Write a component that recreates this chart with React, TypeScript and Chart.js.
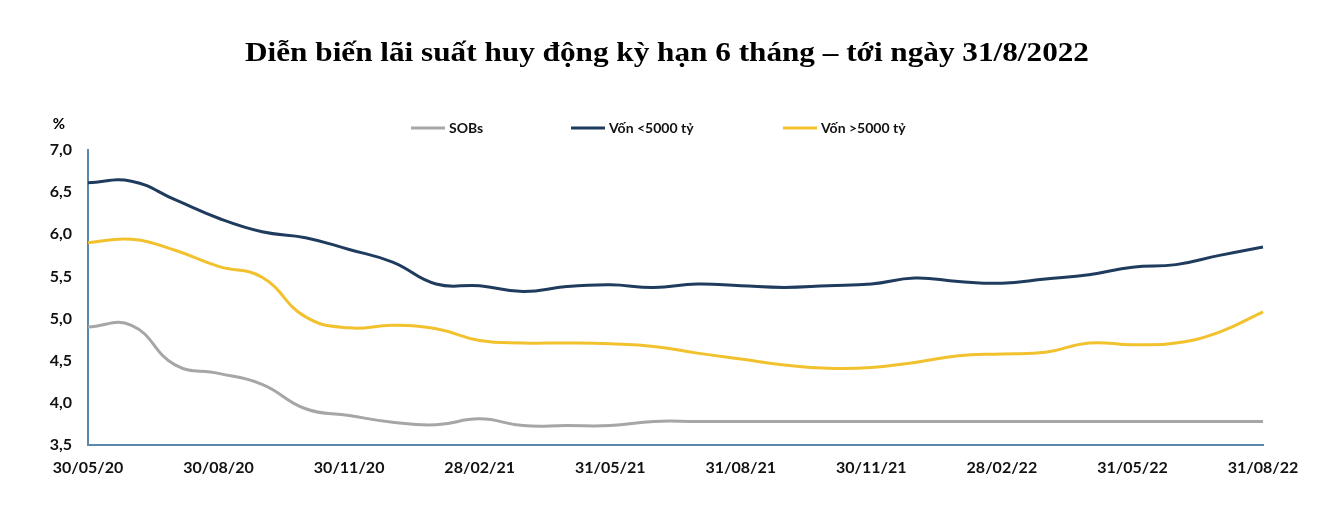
import React, { useEffect, useRef } from "react";
import { Chart, registerables } from "chart.js";

Chart.register(...registerables);

const labels = [
  "30/05/20", "", "", "30/08/20", "", "", "30/11/20", "", "", "28/02/21", "", "",
  "31/05/21", "", "", "31/08/21", "", "", "30/11/21", "", "", "28/02/22", "", "",
  "31/05/22", "", "", "31/08/22",
];

const sobs = [
  4.90, 4.92, 4.45, 4.35, 4.22, 3.93, 3.85, 3.77, 3.74, 3.81, 3.73, 3.73, 3.73, 3.78,
  3.78, 3.78, 3.78, 3.78, 3.78, 3.78, 3.78, 3.78, 3.78, 3.78, 3.78, 3.78, 3.78, 3.78,
];

const vonNho = [
  6.61, 6.63, 6.41, 6.19, 6.03, 5.96, 5.82, 5.67, 5.41, 5.39, 5.32, 5.38, 5.40, 5.37,
  5.41, 5.39, 5.37, 5.39, 5.41, 5.48, 5.44, 5.42, 5.47, 5.52, 5.61, 5.64, 5.75, 5.85,
];

const vonLon = [
  5.90, 5.94, 5.81, 5.62, 5.49, 5.02, 4.89, 4.92, 4.88, 4.74, 4.71, 4.71, 4.70, 4.67,
  4.59, 4.52, 4.45, 4.41, 4.42, 4.48, 4.56, 4.58, 4.60, 4.71, 4.69, 4.71, 4.84, 5.08,
];

const seriesNames = ["SOBs", "Vốn <5000 tỷ", "Vốn >5000 tỷ"];
const seriesColors = ["#a6a6a6", "#1f3c5e", "#f2c12e"];
const title = "Diễn biến lãi suất huy động kỳ hạn 6 tháng – tới ngày 31/8/2022";
const unitLabel = "%";

const overlayPlugin = {
  id: "overlay",
  afterDraw(chart: any) {
    const ctx = chart.ctx;
    ctx.save();
    // title
    ctx.fillStyle = "#000";
    ctx.font = "bold 28px 'Liberation Serif'";
    ctx.textAlign = "center";
    ctx.textBaseline = "alphabetic";
    ctx.save();
    ctx.translate(667, 61);
    ctx.scale(1.115, 1);
    ctx.fillText(title, 0, 0);
    ctx.restore();
    // unit
    ctx.font = "bold 15px Lato";
    ctx.textAlign = "center";
    ctx.textBaseline = "middle";
    ctx.fillText(unitLabel, 59, 124);
    // legend
    const legendX = [411, 571, 783];
    ctx.textAlign = "left";
    ctx.font = "bold 14px Lato";
    for (let i = 0; i < 3; i++) {
      ctx.strokeStyle = seriesColors[i];
      ctx.lineWidth = 3;
      ctx.beginPath();
      ctx.moveTo(legendX[i], 128);
      ctx.lineTo(legendX[i] + 34, 128);
      ctx.stroke();
      ctx.fillStyle = "#111";
      ctx.fillText(seriesNames[i], legendX[i] + 38, 128);
    }
    ctx.restore();
  },
};

export default function App() {
  const ref = useRef<HTMLCanvasElement>(null);
  useEffect(() => {
    const chart = new Chart(ref.current!, {
      type: "line",
      data: {
        labels,
        datasets: [
          { label: seriesNames[0], data: sobs, borderColor: seriesColors[0] },
          { label: seriesNames[1], data: vonNho, borderColor: seriesColors[1] },
          { label: seriesNames[2], data: vonLon, borderColor: seriesColors[2] },
        ].map((d) => ({
          ...d,
          borderWidth: 3,
          pointRadius: 0,
          tension: 0.45,
          fill: false,
        })),
      },
      options: {
        animation: false,
        responsive: false,
        layout: { padding: { top: 150, right: 66, left: 0, bottom: 0 } },
        plugins: { legend: { display: false }, title: { display: false }, tooltip: { enabled: false } },
        scales: {
          x: {
            offset: false,
            grid: { display: false, drawTicks: false },
            border: { display: true, color: "#5b87aa", width: 2 },
            ticks: {
              autoSkip: false,
              maxRotation: 0,
              padding: 13,
              color: "#111",
              font: { family: "Lato", weight: "bold", size: 16 },
            },
            afterFit: (s: any) => { s.height = 73; },
          },
          y: {
            min: 3.5,
            max: 7.0,
            grid: { display: false, drawTicks: false },
            border: { display: true, color: "#5b87aa", width: 2 },
            ticks: {
              stepSize: 0.5,
              padding: 16,
              color: "#111",
              font: { family: "Lato", weight: "bold", size: 16 },
              callback: (v: any) => Number(v).toFixed(1).replace(".", ","),
            },
            afterFit: (s: any) => { s.width = 88; },
          },
        },
      },
      plugins: [overlayPlugin],
    });
    return () => chart.destroy();
  }, []);
  return (
    <div style={{ position: "fixed", left: 0, top: 0, width: 1329, height: 518, background: "#fff" }}>
      <canvas ref={ref} width={1329} height={518} />
    </div>
  );
}
